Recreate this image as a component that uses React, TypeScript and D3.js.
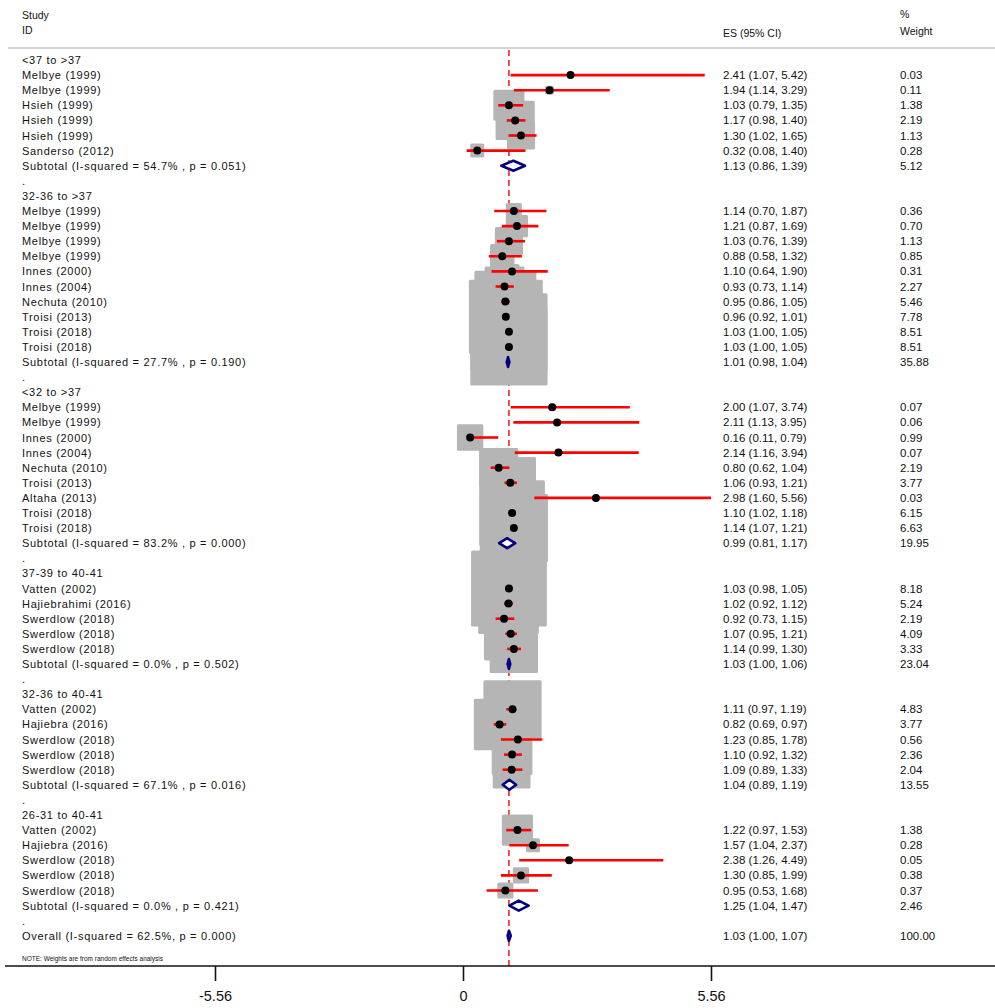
import React, { useEffect, useRef } from "react";
import * as d3 from "d3";

// ---------- DATA ----------
const groupLabels = [
  "<37 to >37",
  "32-36 to >37",
  "<32  to >37",
  "37-39 to 40-41",
  "32-36 to 40-41",
  "26-31 to 40-41",
];

const studyNames = [
  ["Melbye (1999)", "Melbye (1999)", "Hsieh (1999)", "Hsieh (1999)", "Hsieh (1999)", "Sanderso (2012)"],
  ["Melbye (1999)", "Melbye (1999)", "Melbye (1999)", "Melbye (1999)", "Innes (2000)", "Innes (2004)", "Nechuta (2010)", "Troisi (2013)", "Troisi (2018)", "Troisi (2018)"],
  ["Melbye (1999)", "Melbye (1999)", "Innes (2000)", "Innes (2004)", "Nechuta (2010)", "Troisi (2013)", "Altaha (2013)", "Troisi (2018)", "Troisi (2018)"],
  ["Vatten (2002)", "Hajiebrahimi (2016)", "Swerdlow (2018)", "Swerdlow (2018)", "Swerdlow (2018)"],
  ["Vatten (2002)", "Hajiebra (2016)", "Swerdlow (2018)", "Swerdlow (2018)", "Swerdlow (2018)"],
  ["Vatten (2002)", "Hajiebra (2016)", "Swerdlow (2018)", "Swerdlow (2018)", "Swerdlow (2018)"],
];

const studyES = [
  [2.41, 1.94, 1.03, 1.17, 1.3, 0.32],
  [1.14, 1.21, 1.03, 0.88, 1.1, 0.93, 0.95, 0.96, 1.03, 1.03],
  [2.0, 2.11, 0.16, 2.14, 0.8, 1.06, 2.98, 1.1, 1.14],
  [1.03, 1.02, 0.92, 1.07, 1.14],
  [1.11, 0.82, 1.23, 1.1, 1.09],
  [1.22, 1.57, 2.38, 1.3, 0.95],
];

const studyLo = [
  [1.07, 1.14, 0.79, 0.98, 1.02, 0.08],
  [0.7, 0.87, 0.76, 0.58, 0.64, 0.73, 0.86, 0.92, 1.0, 1.0],
  [1.07, 1.13, 0.11, 1.16, 0.62, 0.93, 1.6, 1.02, 1.07],
  [0.98, 0.92, 0.73, 0.95, 0.99],
  [0.97, 0.69, 0.85, 0.92, 0.89],
  [0.97, 1.04, 1.26, 0.85, 0.53],
];

const studyHi = [
  [5.42, 3.29, 1.35, 1.4, 1.65, 1.4],
  [1.87, 1.69, 1.39, 1.32, 1.9, 1.14, 1.05, 1.01, 1.05, 1.05],
  [3.74, 3.95, 0.79, 3.94, 1.04, 1.21, 5.56, 1.18, 1.21],
  [1.05, 1.12, 1.15, 1.21, 1.3],
  [1.19, 0.97, 1.78, 1.32, 1.33],
  [1.53, 2.37, 4.49, 1.99, 1.68],
];

const studyWeight = [
  [0.03, 0.11, 1.38, 2.19, 1.13, 0.28],
  [0.36, 0.7, 1.13, 0.85, 0.31, 2.27, 5.46, 7.78, 8.51, 8.51],
  [0.07, 0.06, 0.99, 0.07, 2.19, 3.77, 0.03, 6.15, 6.63],
  [8.18, 5.24, 2.19, 4.09, 3.33],
  [4.83, 3.77, 0.56, 2.36, 2.04],
  [1.38, 0.28, 0.05, 0.38, 0.37],
];

const subtotalHet = [
  "I-squared = 54.7% , p = 0.051",
  "I-squared = 27.7% , p = 0.190",
  "I-squared = 83.2% , p = 0.000",
  "I-squared = 0.0% , p = 0.502",
  "I-squared = 67.1% , p = 0.016",
  "I-squared = 0.0% , p = 0.421",
];
const subtotalES = [1.13, 1.01, 0.99, 1.03, 1.04, 1.25];
const subtotalLo = [0.86, 0.98, 0.81, 1.0, 0.89, 1.04];
const subtotalHi = [1.39, 1.04, 1.17, 1.06, 1.19, 1.47];
const subtotalWeight = [5.12, 35.88, 19.95, 23.04, 13.55, 2.46];

const overallHet = "I-squared = 62.5%, p = 0.000";
const overallES = 1.03;
const overallLo = 1.0;
const overallHi = 1.07;
const overallWeight = 100.0;

const tickValues = [-5.56, 0, 5.56];
const tickLabels = ["-5.56", "0", "5.56"];
const axisDomain = [-5.56, 5.56];

// ---------- LAYOUT ----------
const W = 995;
const H = 1008;
const rowY0 = 60;
const rowStep = 15.1;
const labelX = 22;
const esX = 723;
const wtX = 900;
const axisY = 966;
const font = "'Liberation Sans', Arial, Helvetica, sans-serif";

type Row =
  | { kind: "header"; label: string }
  | { kind: "study"; label: string; es: number; lo: number; hi: number; w: number }
  | { kind: "subtotal"; label: string; es: number; lo: number; hi: number; w: number }
  | { kind: "blank" }
  | { kind: "overall"; label: string; es: number; lo: number; hi: number; w: number };

const rows: Row[] = [];
groupLabels.forEach((g, gi) => {
  rows.push({ kind: "header", label: g });
  studyNames[gi].forEach((n, si) => {
    rows.push({
      kind: "study",
      label: n,
      es: studyES[gi][si],
      lo: studyLo[gi][si],
      hi: studyHi[gi][si],
      w: studyWeight[gi][si],
    });
  });
  rows.push({
    kind: "subtotal",
    label: `Subtotal  (${subtotalHet[gi]})`,
    es: subtotalES[gi],
    lo: subtotalLo[gi],
    hi: subtotalHi[gi],
    w: subtotalWeight[gi],
  });
  rows.push({ kind: "blank" });
});
rows.push({
  kind: "overall",
  label: `Overall  (${overallHet})`,
  es: overallES,
  lo: overallLo,
  hi: overallHi,
  w: overallWeight,
});

const fmt = (v: number) => v.toFixed(2);

export default function App() {
  const axisRef = useRef<SVGGElement>(null);
  const x = d3.scaleLinear().domain(axisDomain).range([215, 711]);
  const y = (i: number) => rowY0 + i * rowStep;

  useEffect(() => {
    document.body.style.margin = "0";
    if (axisRef.current) {
      const g = d3.select(axisRef.current);
      g.selectAll("*").remove();
      g.call(
        d3
          .axisBottom(x)
          .tickValues(tickValues)
          .tickSize(15)
          .tickPadding(10)
          .tickFormat((d, i) => tickLabels[i])
      );
      g.select(".domain").remove();
      g.selectAll(".tick line").attr("stroke", "#111").attr("stroke-width", 1.6);
      g.selectAll(".tick text")
        .attr("font-size", 14.5)
        .attr("font-family", font)
        .attr("fill", "#111");
    }
  });

  const boxK = 26.5;

  return (
    <svg width={W} height={H} style={{ display: "block", background: "#fff" }} fontFamily={font}>
      {/* header */}
      <text x={labelX} y={15} fontSize={10.5} dominantBaseline="central" fill="#111">Study</text>
      <text x={labelX} y={30} fontSize={10.5} dominantBaseline="central" fill="#111">ID</text>
      <text x={esX} y={33} fontSize={10.5} dominantBaseline="central" fill="#111">ES (95% CI)</text>
      <text x={wtX} y={14} fontSize={10.5} dominantBaseline="central" fill="#111">%</text>
      <text x={wtX} y={31} fontSize={10.5} dominantBaseline="central" fill="#111">Weight</text>
      <line x1={8} x2={W} y1={48} y2={48} stroke="#c4c4c4" strokeWidth={1.5} />

      {/* reference dashed line at overall ES */}
      <line
        x1={x(overallES)}
        x2={x(overallES)}
        y1={50}
        y2={axisY}
        stroke="#ff0000"
        strokeWidth={1.4}
        strokeDasharray="6,4"
      />

      {/* weight boxes */}
      {rows.map((r, i) => {
        if (r.kind !== "study") return null;
        const s = boxK * Math.sqrt(r.w);
        return (
          <rect
            key={`b${i}`}
            x={x(r.es) - s / 2}
            y={y(i) - s / 2}
            width={s}
            height={s}
            rx={1.5}
            fill="#b5b5b5"
          />
        );
      })}

      {/* CI lines */}
      {rows.map((r, i) => {
        if (r.kind !== "study") return null;
        return (
          <line
            key={`l${i}`}
            x1={x(r.lo)}
            x2={x(r.hi)}
            y1={y(i)}
            y2={y(i)}
            stroke="#ff0000"
            strokeWidth={2.6}
          />
        );
      })}

      {/* points */}
      {rows.map((r, i) => {
        if (r.kind !== "study") return null;
        return <circle key={`p${i}`} cx={x(r.es)} cy={y(i)} r={4} fill="#000" />;
      })}

      {/* diamonds */}
      {rows.map((r, i) => {
        if (r.kind !== "subtotal" && r.kind !== "overall") return null;
        const cy = y(i);
        const pts = [
          [x(r.lo), cy],
          [x(r.es), cy - 5],
          [x(r.hi), cy],
          [x(r.es), cy + 5],
        ]
          .map((p) => p.join(","))
          .join(" ");
        return (
          <polygon
            key={`d${i}`}
            points={pts}
            fill="#fff"
            stroke="#000080"
            strokeWidth={2.6}
            strokeLinejoin="round"
          />
        );
      })}

      {/* text columns */}
      {rows.map((r, i) => {
        const cy = y(i);
        if (r.kind === "blank") {
          return (
            <text key={`t${i}`} x={labelX} y={cy} fontSize={11.5} dominantBaseline="central" fill="#111">.</text>
          );
        }
        if (r.kind === "header") {
          return (
            <text key={`t${i}`} x={labelX} y={cy} fontSize={11} letterSpacing={0.7} dominantBaseline="central" fill="#111">
              {r.label}
            </text>
          );
        }
        return (
          <g key={`t${i}`}>
            <text x={labelX} y={cy} fontSize={11} letterSpacing={0.7} dominantBaseline="central" fill="#111">
              {r.label}
            </text>
            <text x={esX} y={cy} fontSize={11.5} dominantBaseline="central" fill="#111">
              {`${fmt(r.es)} (${fmt(r.lo)}, ${fmt(r.hi)})`}
            </text>
            <text x={wtX} y={cy} fontSize={11.5} dominantBaseline="central" fill="#111">
              {fmt(r.w)}
            </text>
          </g>
        );
      })}

      {/* note */}
      <text x={labelX} y={958} fontSize={6.5} dominantBaseline="central" fill="#111">
        NOTE: Weights are from random effects analysis
      </text>

      {/* axis */}
      <line x1={5} x2={W} y1={axisY} y2={axisY} stroke="#111" strokeWidth={1.6} />
      <g ref={axisRef} transform={`translate(0,${axisY})`} />
    </svg>
  );
}
